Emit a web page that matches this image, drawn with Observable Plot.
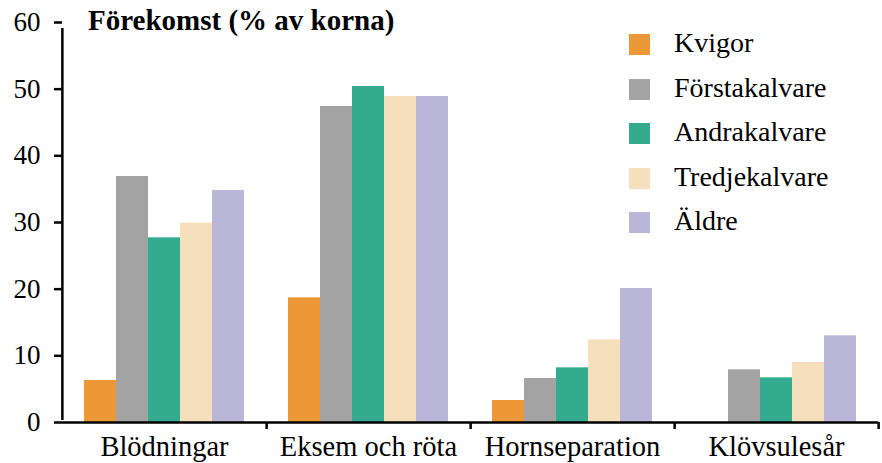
<!DOCTYPE html>
<html>
<head>
<meta charset="utf-8">
<script src="https://cdn.jsdelivr.net/npm/d3@7"></script>
<script src="https://cdn.jsdelivr.net/npm/@observablehq/plot@0.6"></script>
<style>
  html, body { margin: 0; padding: 0; background: white; }
  #wrap { position: relative; width: 882px; height: 463px; overflow: hidden; }
  #wrap, #wrap *, #wrap svg text { font-family: "Liberation Serif", "Times New Roman", Times, serif !important; }
  #title { position: absolute; left: 88px; top: 6px; font-size: 29px; font-weight: bold; line-height: 1; white-space: nowrap; }
  #legend { position: absolute; left: 629px; top: 30px; font-size: 28px; }
  .item { position: absolute; left: 0; height: 30px; white-space: nowrap; }
  .sw { position: absolute; left: 0; top: 4px; width: 21px; height: 21px; }
  .lab { position: absolute; left: 45px; top: -4px; line-height: 1.2; }
</style>
</head>
<body>
<div id="wrap">
  <div id="chart"></div>
  <div id="title"></div>
  <div id="legend"></div>
</div>
<script>
const titleText = "Förekomst (% av korna)";
const categories = ["Blödningar", "Eksem och röta", "Hornseparation", "Klövsulesår"];
const series = ["Kvigor", "Förstakalvare", "Andrakalvare", "Tredjekalvare", "Äldre"];
const colors = ["#EC9836", "#A3A3A3", "#34AB8F", "#F6DFBC", "#B9B6D8"];
const kvigor = [6.3, 18.7, 3.3, null];
const forstakalvare = [36.9, 47.4, 6.6, 7.9];
const andrakalvare = [27.7, 50.4, 8.2, 6.7];
const tredjekalvare = [29.9, 48.9, 12.4, 9.0];
const aldre = [34.8, 48.9, 20.1, 13.0];
const yTicks = [0, 10, 20, 30, 40, 50, 60];

const seriesValues = [kvigor, forstakalvare, andrakalvare, tredjekalvare, aldre];
const data = [];
categories.forEach((c, i) => {
  series.forEach((s, j) => {
    const v = seriesValues[j][i];
    if (v != null) data.push({cat: c, series: s, value: v});
  });
});

const W = 882, H = 463, mL = 61, mR = 4, mT = 22, mB = 41;
const halfBand = (W - mL - mR) / categories.length / 2;
const serifStack = '"Liberation Serif", "Times New Roman", Times, serif';

const plot = Plot.plot({
  width: W, height: H,
  marginLeft: mL, marginRight: mR, marginTop: mT, marginBottom: mB,
  style: {fontFamily: serifStack, background: "white", color: "black", overflow: "visible"},
  fx: {domain: categories, padding: 0, label: null},
  x: {domain: series, paddingInner: 0, paddingOuter: 0.6, axis: null},
  y: {domain: [0, 60], label: null},
  color: {domain: series, range: colors},
  marks: [
    Plot.barY(data, {fx: "cat", x: "series", y: "value", fill: "series"}),
    Plot.axisY({ticks: yTicks, tickSize: 8, tickPadding: 14, strokeWidth: 2.5, fontSize: 27, label: null}),
    Plot.ruleX([categories[0]], {fx: d => d, x: null, y1: 0, y2: 60, dx: -halfBand, insetTop: -2, insetBottom: -6, strokeWidth: 2.5}),
    Plot.ruleY([0], {strokeWidth: 2.5}),
    Plot.axisFx({anchor: "bottom", tickSize: 0, tickPadding: 13, fontSize: 28.5, label: null}),
    Plot.axisFx({anchor: "bottom", tickSize: 7, tickFormat: () => "", dx: halfBand, strokeWidth: 2.5, label: null})
  ]
});
d3.select(plot).selectAll("text").style("font-family", serifStack);
document.getElementById("chart").appendChild(plot);

document.getElementById("title").textContent = titleText;
const legend = document.getElementById("legend");
series.forEach((s, j) => {
  const it = document.createElement("div");
  it.className = "item";
  it.style.top = (j * 44.5) + "px";
  const sw = document.createElement("div");
  sw.className = "sw";
  sw.style.background = colors[j];
  const lab = document.createElement("div");
  lab.className = "lab";
  lab.textContent = s;
  it.appendChild(sw); it.appendChild(lab);
  legend.appendChild(it);
});
</script>
</body>
</html>
